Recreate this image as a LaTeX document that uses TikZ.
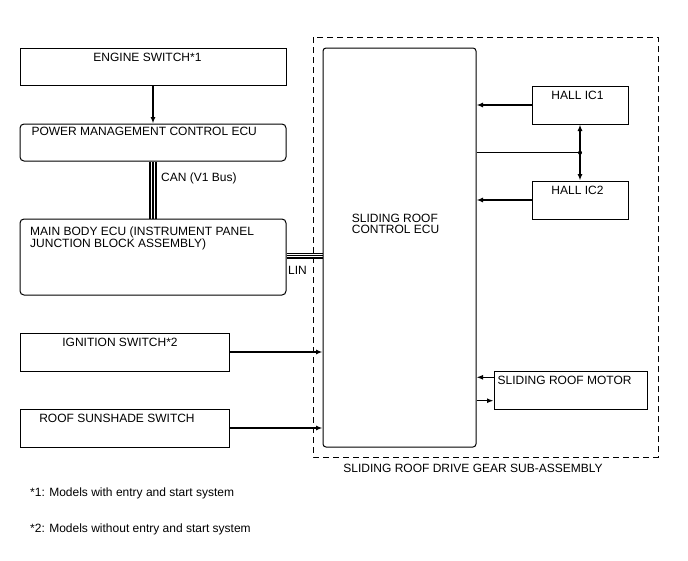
\documentclass[tikz,border=0pt]{standalone}
\usepackage{fontspec}
\setmainfont{Liberation Sans}
\usetikzlibrary{arrows.meta}

\begin{document}
\begin{tikzpicture}[x=1pt,y=-1pt,
    box/.style={draw,line width=1pt,inner sep=0pt},
    rbox/.style={box,rounded corners=4pt},
    arr/.style={line width=1.3pt,-{Latex[length=6.5pt,width=5pt]}},
    bus/.style={line width=1.3pt}]
    \tikzstyle{every node}+=[font=\fontsize{12}{12.6}\selectfont]
    \useasboundingbox (0,0) rectangle (688,560);
    \draw [line width=0.9pt,dash pattern=on 6pt off 4pt] (313,37) rectangle (658,457);
    \node [box,minimum width=266,minimum height=37] (es) at (153,66.5) {};
    \node [rbox,minimum width=266,minimum height=37] (pm) at (153,142.5) {};
    \node [rbox,minimum width=266,minimum height=76] (mb) at (153,257) {};
    \node [box,minimum width=209,minimum height=38] (ig) at (124.5,352) {};
    \node [box,minimum width=209,minimum height=38] (rs) at (124.5,428) {};
    \node [box,rounded corners=3pt,minimum width=153,minimum height=399] (ecu) at (399.5,247.5) {};
    \node [box,minimum width=96,minimum height=38] (h1) at (580,105) {};
    \node [box,minimum width=96,minimum height=38] (h2) at (580,200) {};
    \node [box,minimum width=153,minimum height=38] (mot) at (570.5,390) {};
    \draw (147.5,61.5) node [anchor=base] {ENGINE SWITCH*1};
    \draw (28,135.5) node [anchor=base west] {POWER MANAGEMENT CONTROL ECU};
    \draw (30,226.4) node [anchor=north west,align=left,inner sep=0pt] {MAIN BODY ECU (INSTRUMENT PANEL\\JUNCTION BLOCK ASSEMBLY)};
    \draw (120,346) node [anchor=base] {IGNITION SWITCH*2};
    \draw (117,422) node [anchor=base] {ROOF SUNSHADE SWITCH};
    \draw (351.7,214.3) node [anchor=north west,align=left,inner sep=0pt,font=\fontsize{12}{11}\selectfont] {SLIDING ROOF\\CONTROL ECU};
    \draw (577.5,99) node [anchor=base] {HALL IC1};
    \draw (577.5,194) node [anchor=base] {HALL IC2};
    \draw (497.5,384.3) node [anchor=base west,inner sep=0pt] {SLIDING ROOF MOTOR};
    \draw (473,472.7) node [anchor=base] {SLIDING ROOF DRIVE GEAR SUB-ASSEMBLY};
    \draw (161,181.6) node [anchor=base west,inner sep=0pt] {CAN (V1 Bus)};
    \draw (288,274.3) node [anchor=base west,inner sep=0pt] {LIN};
    \draw (30,496) node [anchor=base west,inner sep=0pt] {*1: Models with entry and start system};
    \draw (30,532.7) node [anchor=base west,inner sep=0pt] {*2: Models without entry and start system};
    \draw [arr] (es.south) -- (pm.north);
    \foreach \s in {-3,0,3}
        \draw [bus] ([xshift=\s]pm.south) -- ([xshift=\s]mb.north);
    \foreach \s in {-1,1.4,3.8}
        \draw [bus] ([yshift=\s]mb.east) -- ([yshift=\s]mb.east -| ecu.west);
    \draw [arr] (ig.east) -- (ig.east -| ecu.west);
    \draw [arr] (rs.east) -- (rs.east -| ecu.west);
    \draw [arr] (h1.west) -- (h1.west -| ecu.east);
    \draw [arr] (h2.west) -- (h2.west -| ecu.east);
    \coordinate (j) at (580,152.7);
    \draw [line width=1.1pt] (j -| ecu.east) -- (j);
    \fill (j) circle (2);
    \draw [arr] (j) -- (h1.south);
    \draw [arr] (j) -- (h2.north);
    \draw [arr] ([yshift=12.7]mot.west) -- ([yshift=12.7]mot.west -| ecu.east);
    \draw [arr] ([yshift=-10.7]mot.west -| ecu.east) -- ([yshift=-10.7]mot.west);
\end{tikzpicture}
\end{document}
